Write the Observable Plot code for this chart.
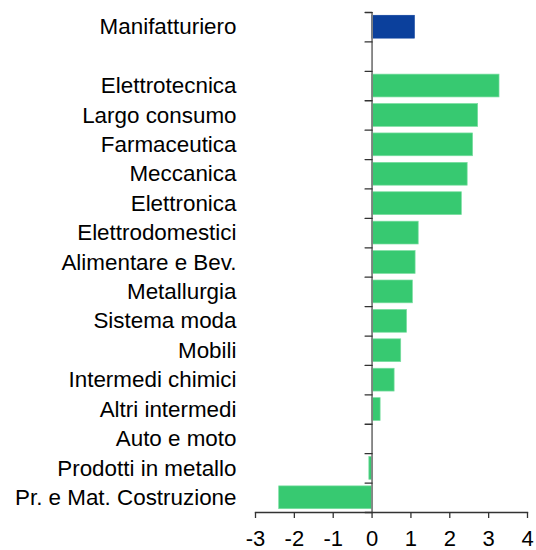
<!DOCTYPE html>
<html><head><meta charset="utf-8">
<script src="https://cdn.jsdelivr.net/npm/d3@7"></script>
<script src="https://cdn.jsdelivr.net/npm/@observablehq/plot@0.6"></script>
<style>body{margin:0;background:#fff}</style>
</head><body><div id="chart"></div>
<script>
const totalLabel = "Manifatturiero";
const totalValue = 1.1;
const sectors = ["Elettrotecnica", "Largo consumo", "Farmaceutica", "Meccanica", "Elettronica",
  "Elettrodomestici", "Alimentare e Bev.", "Metallurgia", "Sistema moda", "Mobili",
  "Intermedi chimici", "Altri intermedi", "Auto e moto", "Prodotti in metallo", "Pr. e Mat. Costruzione"];
const sectorValues = [3.28, 2.73, 2.60, 2.46, 2.31, 1.20, 1.12, 1.05, 0.90, 0.75, 0.58, 0.22, 0.0, -0.07, -2.39];
const xTicks = [-3, -2, -1, 0, 1, 2, 3, 4];
const colors = {total: "#0b409c", sector: "#37c971"};

const rows = [{name: totalLabel, value: totalValue, pos: 0, kind: "total"},
  ...sectors.map((name, i) => ({name, value: sectorValues[i], pos: i + 2, kind: "sector"}))];
const nSlots = rows.length + 1; // one blank slot after the total
const boundaries = d3.range(nSlots + 1);

const chart = Plot.plot({
  width: 536, height: 550,
  marginLeft: 255, marginRight: 9, marginTop: 12, marginBottom: 38,
  style: {fontFamily: "'Liberation Sans', Arial, sans-serif", fontSize: "22px", color: "#000", background: "#fff"},
  x: {domain: [-3, 4], label: null},
  y: {domain: [0, nSlots], reverse: true, label: null},
  marks: [
    Plot.rect(rows, {x1: 0, x2: "value", y1: "pos", y2: d => d.pos + 1, insetTop: 3.3, insetBottom: 3.3,
      fill: d => colors[d.kind], stroke: d => d.kind === "sector" ? "#79dda0" : colors.total, strokeWidth: 0.7}),
    Plot.ruleX([0], {stroke: "#808080", strokeWidth: 1.8}),
    Plot.vector(boundaries, {x: 0, y: d => d, rotate: 270, length: 7, anchor: "start", stroke: "#333", strokeWidth: 1.3,
      shape: {draw(ctx, l) { ctx.moveTo(0, 0); ctx.lineTo(0, -l); }}}),
    Plot.frame({anchor: "bottom", stroke: "#333", strokeWidth: 1.3}),
    Plot.axisY(rows.map(d => d.pos + 0.5), {tickSize: 0, tickPadding: 19, fontSize: 22.4, label: null,
      tickFormat: v => rows.find(r => r.pos + 0.5 === v).name}),
    Plot.axisX(xTicks, {tickSize: 6, tickPadding: 12, fontSize: 22, stroke: "#333", strokeWidth: 1.3, label: null,
      tickFormat: d => String(d)})
  ]
});
document.getElementById("chart").append(chart);
</script>
</body></html>
